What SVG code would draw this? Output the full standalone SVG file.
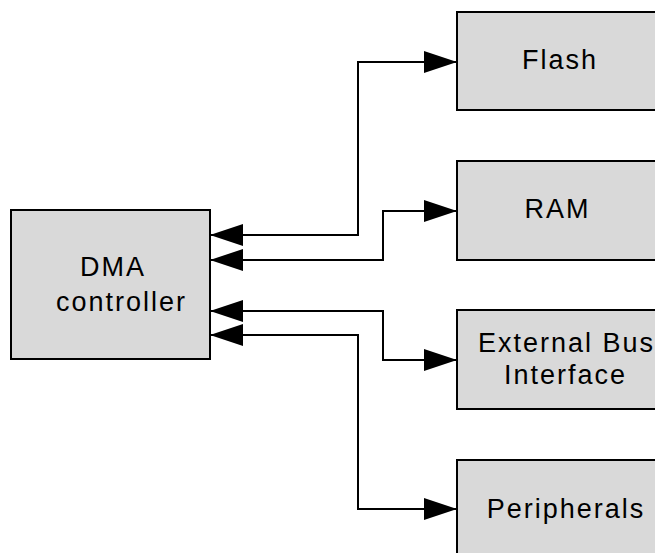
<svg xmlns="http://www.w3.org/2000/svg" width="655" height="553" viewBox="0 0 655 553">
<defs>
<style>
.box{fill:#d9d9d9;stroke:#000;stroke-width:2}
.lbl{font-family:"Liberation Sans",Arial,sans-serif;font-size:27px;letter-spacing:2px;fill:#000;text-anchor:middle}
.con{fill:none;stroke:#000;stroke-width:2}
</style>
<marker id="ah" markerUnits="userSpaceOnUse" markerWidth="33" markerHeight="22" refX="33" refY="11" orient="auto-start-reverse" viewBox="0 0 33 22">
<path d="M0,0 L33,11 L0,22 z" fill="#000"/>
</marker>
</defs>
<rect width="655" height="553" fill="#fff"/>
<g id="connectors">
<path class="con" d="M210,235 H358 V62 H457" marker-start="url(#ah)" marker-end="url(#ah)"/>
<path class="con" d="M210,260 H383 V211 H457" marker-start="url(#ah)" marker-end="url(#ah)"/>
<path class="con" d="M210,311 H383 V360 H457" marker-start="url(#ah)" marker-end="url(#ah)"/>
<path class="con" d="M210,335 H358 V509 H457" marker-start="url(#ah)" marker-end="url(#ah)"/>
</g>
<g id="dma">
<rect class="box" x="11" y="210" width="199" height="149"/>
<text class="lbl" x="113" y="276">DMA</text>
<text class="lbl" x="121.5" y="311">controller</text>
</g>
<g id="flash">
<rect class="box" x="457" y="12" width="210" height="98"/>
<text class="lbl" x="560" y="69">Flash</text>
</g>
<g id="ram">
<rect class="box" x="457" y="161" width="210" height="99"/>
<text class="lbl" x="557.5" y="218">RAM</text>
</g>
<g id="ebi">
<rect class="box" x="457" y="310" width="210" height="99"/>
<text class="lbl" x="566.5" y="352">External Bus</text>
<text class="lbl" x="565.5" y="384">Interface</text>
</g>
<g id="peripherals">
<rect class="box" x="457" y="460" width="210" height="110"/>
<text class="lbl" x="566" y="518">Peripherals</text>
</g>
</svg>
